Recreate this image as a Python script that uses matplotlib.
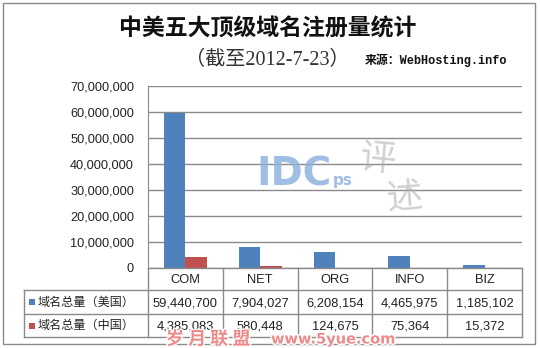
import numpy as np
import matplotlib
matplotlib.use("Agg")
import matplotlib.pyplot as plt
from matplotlib.ticker import FuncFormatter
from matplotlib.patches import Rectangle
import matplotlib.patheffects as pe

categories = ["COM", "NET", "ORG", "INFO", "BIZ"]
series_names = ["域名总量（美国）", "域名总量（中国）"]
usa = [59440700, 7904027, 6208154, 4465975, 1185102]
china = [4385083, 580448, 124675, 75364, 15372]

W, H = 540, 348
BLUE = "#4F81BD"
RED = "#C0504D"
LINE = "#8a8a8a"
CJK = ["Noto Sans CJK SC", "DejaVu Sans"]

def fx(x):
    return x / W

def fy(y):
    return 1 - y / H

fig = plt.figure(figsize=(W / 100, H / 100), dpi=100)
fig.patch.set_facecolor("white")

# outer chart frame
fig.add_artist(Rectangle((fx(3), fy(344)), fx(532), 341 / H, transform=fig.transFigure,
                         fill=False, edgecolor=LINE, linewidth=1))

# plot area
left, right, top, bottom = 148, 522, 86, 268
ax = fig.add_axes([fx(left), fy(bottom), (right - left) / W, (bottom - top) / H])
x = np.arange(len(categories))
bw = 0.285
ax.bar(x - bw / 2, usa, bw, color=BLUE, zorder=3)
ax.bar(x + bw / 2, china, bw, color=RED, zorder=3)
ax.set_xlim(-0.5, len(categories) - 0.5)
ax.set_ylim(0, 70000000)
ax.set_yticks(np.arange(0, 70000001, 10000000))
ax.yaxis.set_major_formatter(FuncFormatter(lambda v, p: f"{v:,.0f}"))
ax.set_xticks([])
ax.grid(axis="y", color=LINE, linewidth=1, zorder=0)
for s in ["top", "right", "bottom"]:
    ax.spines[s].set_visible(False)
ax.spines["left"].set_color(LINE)
ax.tick_params(axis="y", length=0, pad=10, labelsize=9.2, labelcolor="#222222")
for t in ax.get_yticklabels():
    t.set_family("Liberation Sans")

# data table under the axis
col_w = (right - left) / len(categories)
edges = [left + i * col_w for i in range(len(categories) + 1)]
rows_y = [268, 290, 314, 337]

def hline(y, x0, x1):
    fig.add_artist(plt.Line2D([fx(x0), fx(x1)], [fy(y), fy(y)], color=LINE, lw=1))

def vline(xp, y0, y1):
    fig.add_artist(plt.Line2D([fx(xp), fx(xp)], [fy(y0), fy(y1)], color=LINE, lw=1))

hline(rows_y[0], left, right)
for y in rows_y[1:]:
    hline(y, 24, right)
vline(24, rows_y[1], rows_y[3])
for e in edges:
    vline(e, rows_y[0], rows_y[3])

for i, c in enumerate(categories):
    cx = (edges[i] + edges[i + 1]) / 2
    fig.text(fx(cx), fy((rows_y[0] + rows_y[1]) / 2 + 1), c, ha="center", va="center",
             family="Liberation Sans", fontsize=9.3, color="#222222")

for r, (name, vals, col) in enumerate(zip(series_names, [usa, china], [BLUE, RED])):
    yc = (rows_y[r + 1] + rows_y[r + 2]) / 2
    fig.add_artist(Rectangle((fx(29), fy(yc + 3)), fx(6), 6 / H, transform=fig.transFigure,
                             facecolor=col, edgecolor="none"))
    fig.text(fx(38), fy(yc), name, ha="left", va="center", family=CJK,
             fontsize=8.7, color="#222222")
    for i, v in enumerate(vals):
        cx = (edges[i] + edges[i + 1]) / 2
        fig.text(fx(cx), fy(yc + 1), f"{v:,}", ha="center", va="center",
                 family="Liberation Sans", fontsize=9.3, color="#222222")

# titles
fig.text(fx(268), fy(29), "中美五大顶级域名注册量统计", ha="center", va="center",
         family=CJK, fontsize=16.5, fontweight="bold", color="#111111")
fig.text(fx(185), fy(60), "（截至2012-7-23）", ha="left", va="center",
         family=["Liberation Serif", "Noto Sans CJK SC"], fontsize=14.5,
         fontweight="light", color="#333333")
fig.text(fx(365), fy(60), "来源：WebHosting.info", ha="left", va="center",
         family=["Liberation Mono", "Noto Sans CJK SC"], fontsize=8.6,
         fontweight="bold", color="#111111")

# watermarks
fig.text(fx(256), fy(174), "IDC", ha="left", va="center", family="DejaVu Sans",
         fontsize=28, fontweight="bold", color="#8fb3de", alpha=0.85)
fig.text(fx(333), fy(181), "ps", ha="left", va="center", family="DejaVu Sans",
         fontsize=11, fontweight="bold", color="#8fb3de", alpha=0.85)
fig.text(fx(358), fy(160), "评", ha="left", va="center", family=CJK,
         fontsize=26, color="#b0b0b0", alpha=0.6, rotation=-5)
fig.text(fx(385), fy(198), "述", ha="left", va="center", family=CJK,
         fontsize=26, color="#b0b0b0", alpha=0.6, rotation=5)
fig.text(fx(166), fy(339), "岁 月 联 盟", ha="left", va="center", family=CJK,
         fontsize=13, fontweight="bold", color="#ee8a8a",
         path_effects=[pe.withStroke(linewidth=2, foreground="white")])
fig.text(fx(271), fy(339), "www.5yue.com", ha="left", va="center", family="DejaVu Sans",
         fontsize=10.5, fontweight="bold", color="#ee8a8a",
         path_effects=[pe.withStroke(linewidth=2, foreground="white")])

fig.savefig("out.png", dpi=100, facecolor="white")
